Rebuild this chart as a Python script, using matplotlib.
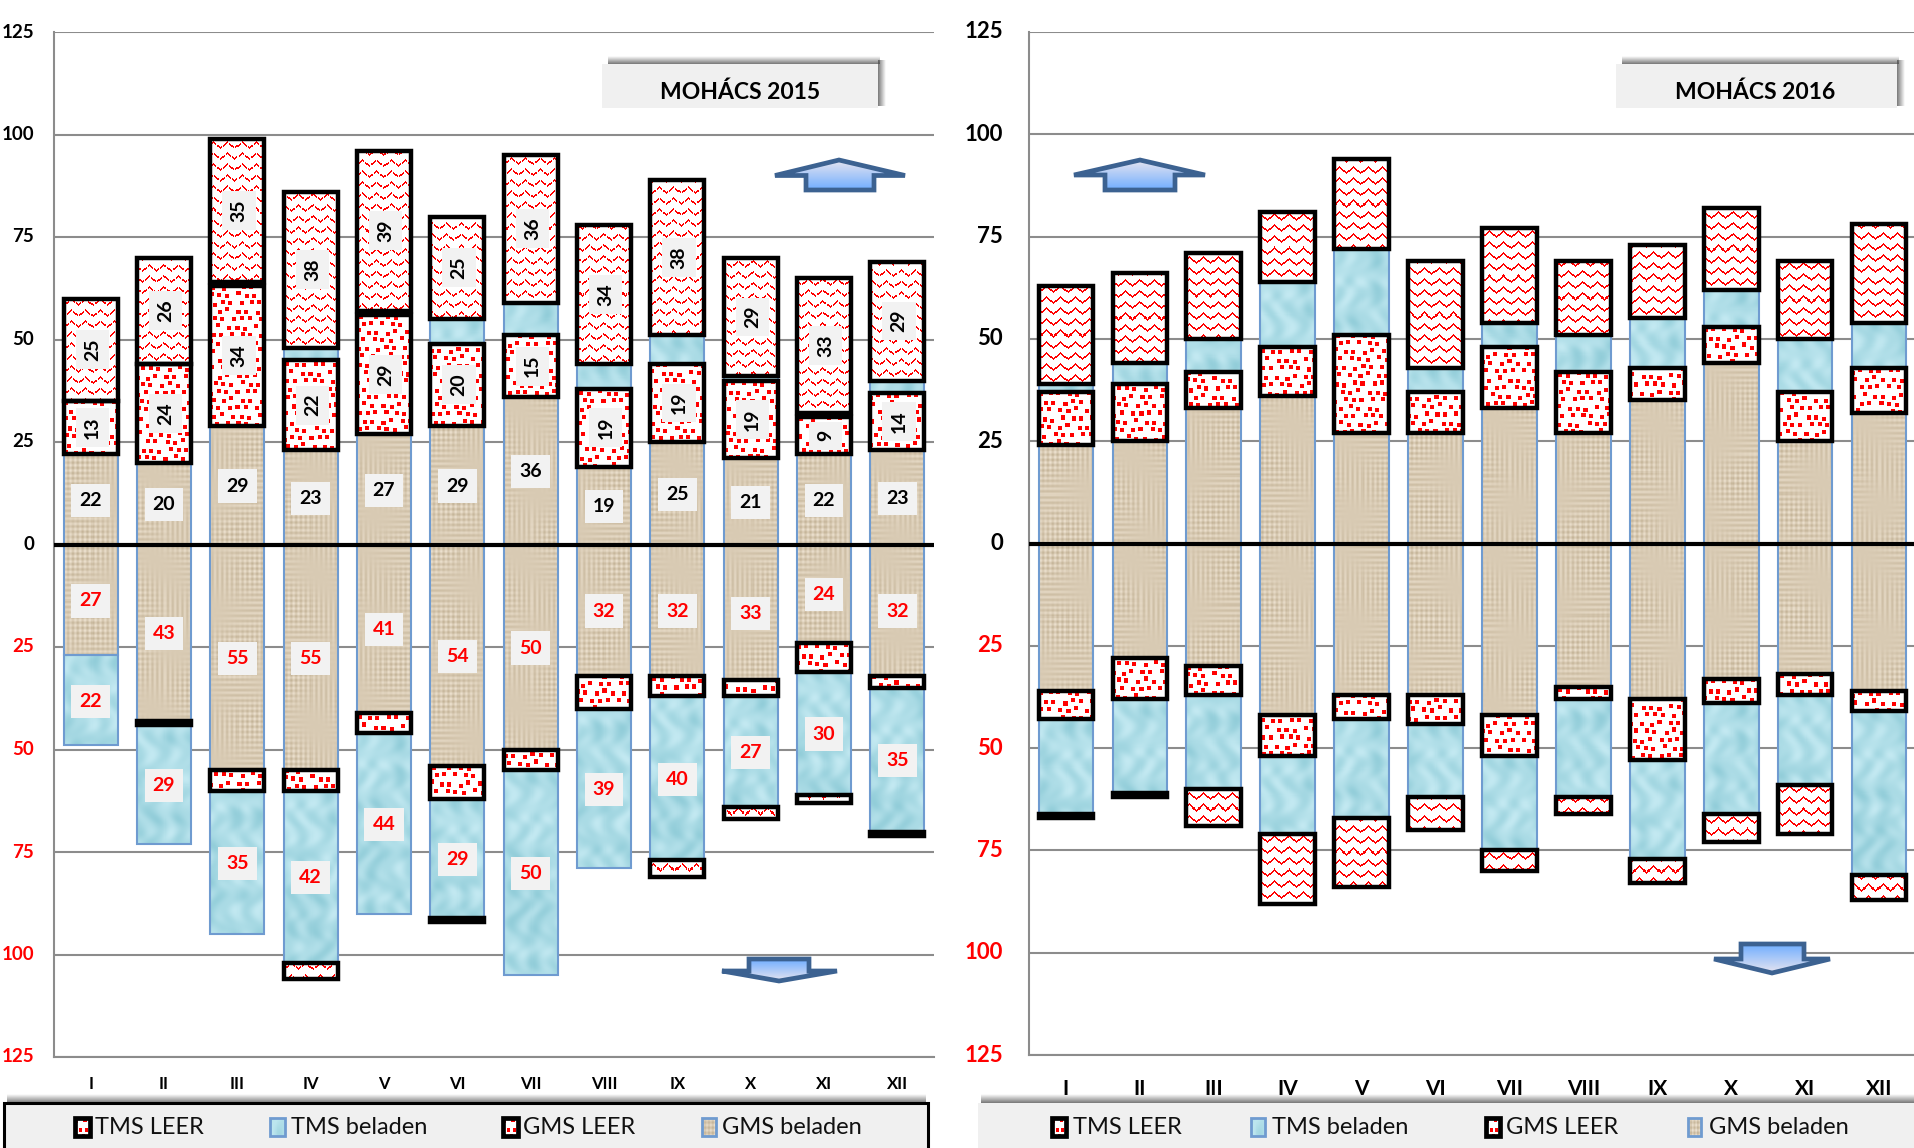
import numpy as np
import matplotlib
matplotlib.use("Agg")
import matplotlib.pyplot as plt
from matplotlib.patches import Rectangle, Polygon

plt.rcParams["font.family"] = ["Lato", "DejaVu Sans"]

W, H = 1915, 1148

months = ["I", "II", "III", "IV", "V", "VI", "VII", "VIII", "IX", "X", "XI", "XII"]
yticks = [125, 100, 75, 50, 25, 0, -25, -50, -75, -100, -125]
legend_names = ["TMS LEER", "TMS beladen", "GMS LEER", "GMS beladen"]

# 2015, upstream
gms_bel_up_15 = [22, 20, 29, 23, 27, 29, 36, 19, 25, 21, 22, 23]
gms_leer_up_15 = [13, 24, 34, 22, 29, 20, 15, 19, 19, 19, 9, 14]
tms_bel_up_15 = [0, 0, 1, 3, 1, 6, 8, 6, 7, 1, 1, 3]
tms_leer_up_15 = [25, 26, 35, 38, 39, 25, 36, 34, 38, 29, 33, 29]
# 2015, downstream
gms_bel_dn_15 = [27, 43, 55, 55, 41, 54, 50, 32, 32, 33, 24, 32]
gms_leer_dn_15 = [0, 1, 5, 5, 5, 8, 5, 8, 5, 4, 7, 3]
tms_bel_dn_15 = [22, 29, 35, 42, 44, 29, 50, 39, 40, 27, 30, 35]
tms_leer_dn_15 = [0, 0, 0, 4, 0, 1, 0, 0, 4, 3, 2, 1]

# 2016, upstream
gms_bel_up_16 = [24, 25, 33, 36, 27, 27, 33, 27, 35, 44, 25, 32]
gms_leer_up_16 = [13, 14, 9, 12, 24, 10, 15, 15, 8, 9, 12, 11]
tms_bel_up_16 = [2, 5, 8, 16, 21, 6, 6, 9, 12, 9, 13, 11]
tms_leer_up_16 = [24, 22, 21, 17, 22, 26, 23, 18, 18, 20, 19, 24]
# 2016, downstream
gms_bel_dn_16 = [36, 28, 30, 42, 37, 37, 42, 35, 38, 33, 32, 36]
gms_leer_dn_16 = [7, 10, 7, 10, 6, 7, 10, 3, 15, 6, 5, 5]
tms_bel_dn_16 = [23, 23, 23, 19, 24, 18, 23, 24, 24, 27, 22, 40]
tms_leer_dn_16 = [1, 1, 9, 17, 17, 8, 5, 4, 6, 7, 12, 6]


def wave_tile(dashed, size=400):
    yy, xx = np.mgrid[0:size, 0:size]
    tri = np.abs((xx % 14) - 7) * 0.8
    on = ((yy - tri) % 11) < 2.0
    if dashed:
        on &= (xx + yy // 11 * 3) % 6 != 5
    img = np.ones((size, size, 3))
    img[on] = (1, 0, 0)
    return img


def dots_tile(size=400):
    img = np.ones((size, size, 3))
    jitter = [0, 1, -1, 1, -1, 2, 0, -1, 1, 0, -2]
    for r, y in enumerate(range(1, size, 8)):
        for c, x in enumerate(range(0, size, 9)):
            px = x + (r % 2) * 4 + jitter[(r * 3 + c) % 11]
            py = y + jitter[(r + c * 2) % 11]
            px, py = max(px, 0), max(py, 0)
            img[py:py + 4, px:px + 4] = (1, 0, 0)
    return img


def linen_tile(size=400):
    yy, xx = np.mgrid[0:size, 0:size].astype(float)
    v = (np.sin(xx * 1.3) * (0.5 + 0.5 * np.sin(yy * 0.083 + np.sin(xx * 0.05)))
         + np.sin(yy * 1.2) * (0.5 + 0.5 * np.sin(xx * 0.071 + np.sin(yy * 0.04))))
    img = np.stack([0.85 + 0.04 * v, 0.795 + 0.045 * v, 0.705 + 0.055 * v], axis=2)
    return np.clip(img, 0, 1)


def water_tile(size=400):
    yy, xx = np.mgrid[0:size, 0:size].astype(float)
    v = np.sin(xx * 0.13 + np.sin(yy * 0.07) * 2) * np.sin(yy * 0.10 + np.sin(xx * 0.09) * 2)
    v += 0.35 * np.sin(xx * 0.31 + 2 * np.sin(yy * 0.17))
    img = np.stack([0.67 + 0.07 * v, 0.86 + 0.04 * v, 0.90 + 0.035 * v], axis=2)
    return np.clip(img, 0, 1)


wave_15 = wave_tile(True)
wave_16 = wave_tile(False)
dots = dots_tile()
linen = linen_tile()
water = water_tile()


def fill_rect(ax, rect, tile, z, seed):
    # paint a texture inside one bar, one tile pixel per screen pixel
    x, y = rect.get_x(), rect.get_y()
    w, h = rect.get_width(), rect.get_height()
    (x0, y0), (x1, y1) = ax.transData.transform([(x, y), (x + w, y + h)])
    pw = max(int(abs(x1 - x0)), 1)
    ph = max(int(abs(y1 - y0)), 1)
    off = seed * 37 % 90
    crop = tile[off:off + ph, off:off + pw]
    top, bot = max(y, y + h), min(y, y + h)
    im = ax.imshow(crop, extent=(x, x + w, bot, top), aspect="auto",
                   interpolation="nearest", zorder=z)
    im.set_clip_path(rect)


def stack(ax, values, bottoms, tile, leer, sign, bar_w):
    xs = np.arange(12)
    vals = np.array(values, dtype=float)
    keep = vals > 0
    heights = sign * vals[keep]
    edge = "black" if leer else "#6F9BD0"
    lw = 3.2 if leer else 1.5
    z = 4 if leer else 3
    bars = ax.bar(xs[keep], heights, bar_w, bottom=bottoms[keep], facecolor="none",
                  edgecolor=edge, linewidth=lw, zorder=z, joinstyle="miter")
    for i, rect in enumerate(bars):
        fill_rect(ax, rect, tile, z - 0.5, i)
    return bottoms + sign * vals


def value_label(ax, x, y, val, color, rotated):
    if rotated:
        x += 0.025
    else:
        y -= 0.25
    ax.text(x, y, str(val), color=color, fontsize=14, fontweight="bold",
            rotation=90 if rotated else 0, ha="center", va="center", zorder=7,
            bbox=dict(boxstyle="square,pad=0.42", fc="#F2F2F2", ec="none"))


def draw_panel(box, year_wave, up, dn, tick_size, xtick_size, xtick_y, tick_x):
    left, top, right, bottom = box
    ax = fig.add_axes([left / W, 1 - bottom / H, (right - left) / W, (bottom - top) / H])
    ax.set_xlim(-0.5, 11.5)
    ax.set_ylim(-125, 125)
    ax.set_autoscale_on(False)
    ax.set_facecolor("none")
    ax.set_yticks(yticks)
    ax.set_yticklabels([])
    ax.set_xticks(range(12))
    ax.set_xticklabels([])
    ax.tick_params(length=0)
    ax.grid(True, axis="y", color="#8C8C8C", lw=1.5, zorder=1)
    ax.set_axisbelow(True)
    for s in ["right", "top"]:
        ax.spines[s].set_visible(False)
    for s in ["left", "bottom"]:
        ax.spines[s].set_color("#8C8C8C")
        ax.spines[s].set_linewidth(1.5)

    bar_w = 0.74
    b = np.zeros(12)
    s1 = stack(ax, up[0], b, linen, False, 1, bar_w)
    s2 = stack(ax, up[1], s1, dots, True, 1, bar_w)
    s3 = stack(ax, up[2], s2, water, False, 1, bar_w)
    stack(ax, up[3], s3, year_wave, True, 1, bar_w)

    d1 = stack(ax, dn[0], b, linen, False, -1, bar_w)
    d2 = stack(ax, dn[1], d1, dots, True, -1, bar_w)
    d3 = stack(ax, dn[2], d2, water, False, -1, bar_w)
    stack(ax, dn[3], d3, year_wave, True, -1, bar_w)

    ax.axhline(0, color="black", lw=3, zorder=6)

    # tick labels as plain text so they can sit at the reference position
    zero = 1 - (top + bottom) / 2 / H
    scale = (bottom - top) / 250 / H
    for t in yticks:
        fig.text(tick_x / W, zero + t * scale, str(abs(t)), ha="right", va="center",
                 fontsize=tick_size, fontweight="bold", color="red" if t < 0 else "black")
    for i, m in enumerate(months):
        px = left + (i + 0.5) * (right - left) / 12
        fig.text(px / W, 1 - xtick_y / H, m, ha="center", va="center",
                 fontsize=xtick_size, fontweight="bold", color="black")
    return ax, (s1, s3, d2)


fig = plt.figure(figsize=(W / 100, H / 100), dpi=100)
fig.patch.set_facecolor("white")

ax15, (s1_15, s3_15, d2_15) = draw_panel((54, 32, 934, 1057), wave_15,
                  (gms_bel_up_15, gms_leer_up_15, tms_bel_up_15, tms_leer_up_15),
                  (gms_bel_dn_15, gms_leer_dn_15, tms_bel_dn_15, tms_leer_dn_15),
                  13.5, 12, 1084, 34)
ax16, _ = draw_panel((1029, 32, 1916, 1055), wave_16,
                  (gms_bel_up_16, gms_leer_up_16, tms_bel_up_16, tms_leer_up_16),
                  (gms_bel_dn_16, gms_leer_dn_16, tms_bel_dn_16, tms_leer_dn_16),
                  16, 15, 1089, 1003)

# only the 2015 panel carries value labels
for i in range(12):
    value_label(ax15, i, gms_bel_up_15[i] / 2, gms_bel_up_15[i], "black", False)
    value_label(ax15, i, s1_15[i] + gms_leer_up_15[i] / 2, gms_leer_up_15[i], "black", True)
    value_label(ax15, i, s3_15[i] + tms_leer_up_15[i] / 2, tms_leer_up_15[i], "black", True)
    value_label(ax15, i, -gms_bel_dn_15[i] / 2, gms_bel_dn_15[i], "red", False)
    value_label(ax15, i, d2_15[i] - tms_bel_dn_15[i] / 2, tms_bel_dn_15[i], "red", False)

# overlay in pixel coordinates for the title boxes, arrows and legends
ov = fig.add_axes([0, 0, 1, 1], zorder=10)
ov.set_xlim(0, W)
ov.set_ylim(H, 0)
ov.set_autoscale_on(False)
ov.axis("off")


def shadow(x0, x1, y0, y1, vertical):
    n = 24
    ramp = np.linspace(0, 0.75, n)
    a = np.zeros((n, 1, 4)) if vertical else np.zeros((1, n, 4))
    a[..., :3] = 0.3
    a[..., 3] = ramp.reshape(a.shape[:2])
    if not vertical:
        a = a[:, ::-1]
    ov.imshow(a, extent=(x0, x1, y1, y0), aspect="auto", interpolation="bilinear", zorder=1)


def title_box(x0, x1, text, cx):
    shadow(x0 + 6, x1 + 2, 56, 64, True)
    shadow(x1, x1 + 8, 60, 106, False)
    ov.add_patch(Rectangle((x0, 64), x1 - x0, 44, fc="#F0F0F0", ec="none", zorder=2))
    ov.text(cx, 92, text, ha="center", va="center", fontsize=16.5, fontweight="bold", zorder=3)


title_box(602, 878, "MOHÁCS 2015", 740)
title_box(1616, 1897, "MOHÁCS 2016", 1755)


def arrow(pts, top_col, bot_col):
    pts = np.array(pts, dtype=float)
    grad = np.zeros((64, 1, 3))
    c0, c1 = np.array(matplotlib.colors.to_rgb(top_col)), np.array(matplotlib.colors.to_rgb(bot_col))
    for k in range(64):
        grad[k, 0] = c0 + (c1 - c0) * k / 63
    poly = Polygon(pts, closed=True, fc="none", ec="#3C6291", lw=3.4, joinstyle="miter", zorder=4)
    ov.add_patch(poly)
    im = ov.imshow(grad, extent=(pts[:, 0].min(), pts[:, 0].max(), pts[:, 1].max(), pts[:, 1].min()),
                   aspect="auto", interpolation="bilinear", zorder=3)
    im.set_clip_path(poly)


arrow([(839, 160), (905, 175.5), (874, 175.5), (874, 190), (806, 190), (806, 175.5), (775, 175.5)],
      "#E6E4F0", "#70AEFF")
arrow([(1140, 160), (1205, 175), (1175, 175), (1175, 190), (1105, 190), (1105, 175), (1074, 175)],
      "#E6E4F0", "#70AEFF")
arrow([(749, 959), (809, 959), (809, 971), (837, 971), (779, 981), (722, 971), (749, 971)],
      "#70AEFF", "#E6E4F0")
arrow([(1741, 944), (1804, 944), (1804, 959), (1830, 959), (1772, 973), (1714, 959), (1741, 959)],
      "#70AEFF", "#E6E4F0")


def legend(x0, x1, border, swatches, texts):
    shadow(x0 + 3, x1 - 2, 1094, 1103, True)
    ov.add_patch(Rectangle((x0, 1103), x1 - x0, 60, fc="#F0F0F0",
                           ec="black" if border else "none", lw=2.2, zorder=2))
    tiles = [dots, water, dots, linen]
    for name, (sx0, sx1), tx, tile in zip(legend_names, swatches, texts, tiles):
        leer = "LEER" in name
        ov.imshow(tile[:18, :18], extent=(sx0, sx1, 1136, 1118), aspect="auto",
                  interpolation="nearest", zorder=3)
        ov.add_patch(Rectangle((sx0, 1118), sx1 - sx0, 18, fc="none",
                               ec="black" if leer else "#6F9BD0", lw=3.4 if leer else 2, zorder=4))
        ov.text(tx, 1127, name, ha="left", va="center", fontsize=17, color="#111111", zorder=5)


legend(4, 928, True, [(75, 90), (270, 285), (503, 518), (702, 716)], [95, 291, 523, 722])
legend(978, 1930, False, [(1052, 1066), (1251, 1265), (1486, 1500), (1688, 1701)], [1073, 1272, 1506, 1709])

fig.savefig("out.png", dpi=100, facecolor="white")
